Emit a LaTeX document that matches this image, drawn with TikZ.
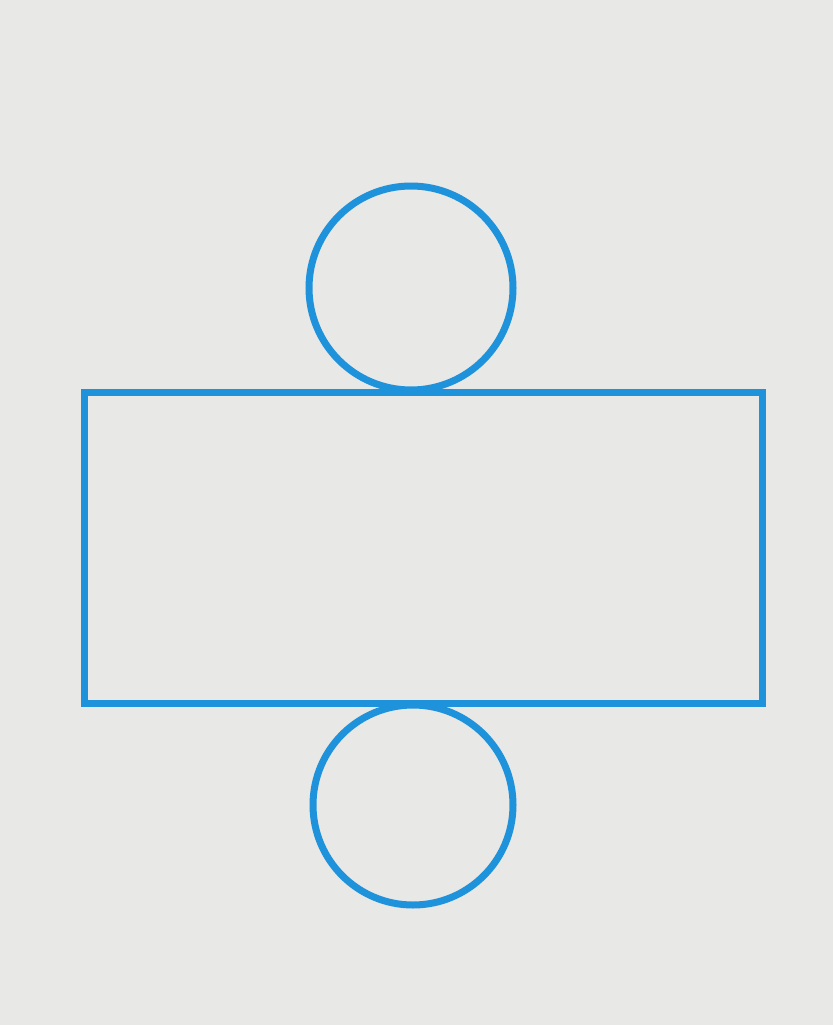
\documentclass[tikz,border=0pt]{standalone}
\definecolor{netblue}{RGB}{30,146,218}
\definecolor{paper}{RGB}{232,232,230}
\begin{document}
\begin{tikzpicture}[x=1pt,y=-1pt,
  netline/.style={draw=netblue,line width=7pt}]
\fill[paper] (0,0) rectangle (833,1025);
\useasboundingbox (0,0) rectangle (833,1025);
\draw[netline] (84,392) rectangle (762,703);
\draw[netline] (411,288) circle (102);
\draw[netline] (413,805) circle (100);
\end{tikzpicture}
\end{document}
